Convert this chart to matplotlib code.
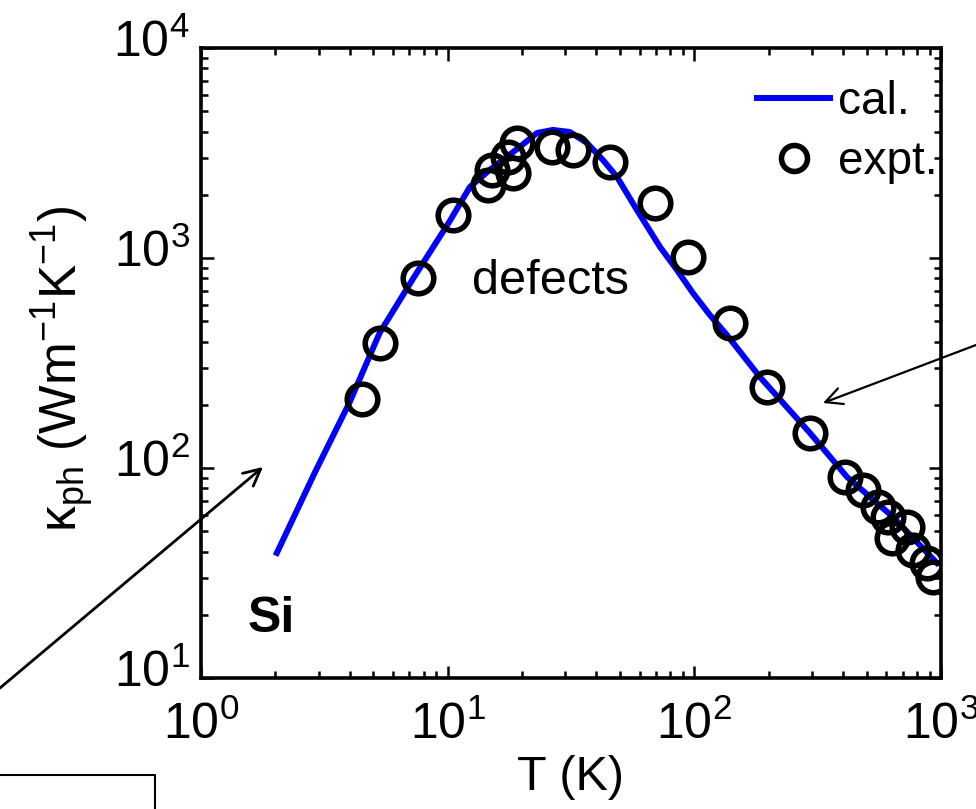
import matplotlib
matplotlib.use("Agg")
import matplotlib.pyplot as plt
from matplotlib.ticker import LogLocator, NullFormatter
from matplotlib.transforms import ScaledTranslation

plt.rcParams['font.family'] = ['Liberation Sans', 'DejaVu Sans']
plt.rcParams['mathtext.fontset'] = 'custom'
plt.rcParams['mathtext.rm'] = 'Liberation Sans'
plt.rcParams['mathtext.it'] = 'Liberation Sans:italic'
plt.rcParams['mathtext.bf'] = 'Liberation Sans:bold'

# calculated curve (Si)
cal_T = [2.03, 2.9, 4.0, 5.3, 7.3, 10.2, 12.3, 14.8, 19.6, 23.0, 26.7, 31.3,
         36.7, 42.6, 48.6, 58.5, 72.6, 85, 98.7, 115.6, 135.5, 184.5, 294,
         416, 638, 962]
cal_k = [39.4, 95.7, 205, 440, 810, 1500, 2178, 2626, 3380, 3936, 4074, 3981,
         3530, 2930, 2430, 1693, 1128, 877, 681, 535, 430, 271, 147, 90.6,
         58.5, 35.3]

# experimental points
exp_T = [4.49, 5.31, 7.58, 10.5, 14.6, 15.1, 18.4, 17.5, 19.1, 26.5, 32.2,
         45.5, 69.2, 94.2, 139, 197, 294, 408, 482, 555, 609, 632, 727, 769,
         877, 927]
exp_k = [213, 394, 803, 1603, 2228, 2625, 2540, 3030, 3530, 3380, 3270, 2865,
         1828, 1012, 490, 243, 147, 90.6, 78.5, 65.2, 58.5, 46.4, 52.4, 40.7,
         35.3, 30.3]

W, H = 976, 809
fig = plt.figure(figsize=(W / 100, H / 100), dpi=100)
ax = fig.add_axes([201 / W, 1 - 678 / H, 740 / W, 630 / H])

ax.plot(cal_T, cal_k, color='#0000ff', lw=4.3, label='cal.', zorder=2)
ax.plot(exp_T, exp_k, 'o', mfc='none', mec='black', ms=22, mew=4.0,
        label='expt.', zorder=3)

ax.set_xscale('log')
ax.set_yscale('log')
ax.set_xlim(1, 1000)
ax.set_ylim(10, 1e4)

ax.xaxis.set_minor_locator(LogLocator(base=10, subs=range(2, 10)))
ax.yaxis.set_minor_locator(LogLocator(base=10, subs=range(2, 10)))
ax.xaxis.set_minor_formatter(NullFormatter())
ax.yaxis.set_minor_formatter(NullFormatter())

for s in ax.spines.values():
    s.set_linewidth(2.6)
ax.tick_params(which='both', direction='in', top=True, right=True,
               width=1.8, labelsize=36)
ax.tick_params(which='major', length=9)
ax.tick_params(which='minor', length=5)
ax.tick_params(axis='x', pad=8)
ax.tick_params(axis='y', pad=8)

ax.set_xlabel('T (K)', fontsize=35)
ax.xaxis.set_label_coords(0.499, -0.122)
ax.set_ylabel('κ$_{\\mathrm{ph}}$ (Wm$^{-1}$K$^{-1}$)', fontsize=37)
ax.yaxis.set_label_coords(-0.14, 0.49)

ax.text(10 ** 1.10, 10 ** 2.89, 'defects', fontsize=35, ha='left',
        va='center')
ax.text(10 ** 0.19, 10 ** 1.28, 'Si', fontsize=36, fontweight='bold',
        ha='left', va='center')

ax.legend(loc='upper left', bbox_to_anchor=(757 / W, 1 - 80 / H),
          bbox_transform=fig.transFigure, frameon=False, fontsize=33,
          handlelength=1.6, handletextpad=0.17, labelspacing=0.35,
          borderpad=0, borderaxespad=0, markerscale=0.85)

# shift tick labels a little, as in the original layout
for lbl in ax.get_xticklabels():
    lbl.set_transform(lbl.get_transform() +
                      ScaledTranslation(0, -0.12, fig.dpi_scale_trans))
for lbl in ax.get_yticklabels():
    lbl.set_transform(lbl.get_transform() +
                      ScaledTranslation(0, 0.10, fig.dpi_scale_trans))

# arrows pointing into the plot (from outside panels)
ax.annotate('', xy=(263 / W, 1 - 467 / H), xycoords='figure fraction',
            xytext=(0, 1 - 688 / H), textcoords='figure fraction',
            arrowprops=dict(arrowstyle='->', lw=2.0, color='black',
                            mutation_scale=30, shrinkA=0, shrinkB=0),
            annotation_clip=False)
ax.annotate('', xy=(823 / W, 1 - 403 / H), xycoords='figure fraction',
            xytext=(1.0, 1 - 345 / H), textcoords='figure fraction',
            arrowprops=dict(arrowstyle='->', lw=1.6, color='black',
                            mutation_scale=30, shrinkA=0, shrinkB=0),
            annotation_clip=False)

# edge of a neighbouring box in the lower left
fig.add_artist(plt.Line2D([0, 155 / W, 155 / W], [1 - 775 / H, 1 - 775 / H, 0],
                          transform=fig.transFigure, color='black', lw=1.5))

fig.savefig('out.png', dpi=100)
